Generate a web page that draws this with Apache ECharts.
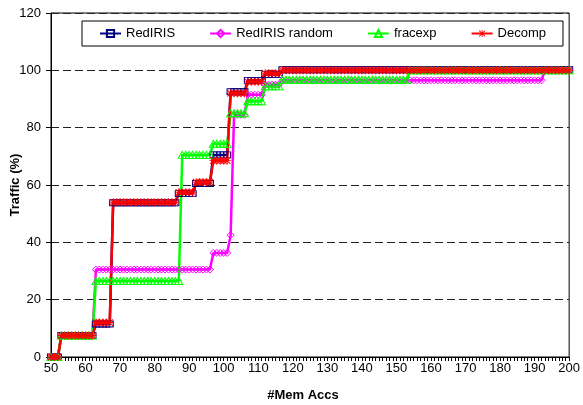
<!DOCTYPE html>
<html>
<head>
<meta charset="utf-8">
<script src="https://cdn.jsdelivr.net/npm/echarts@6/dist/echarts.min.js"></script>
<style>html,body{margin:0;padding:0;background:#fff}#c{width:583px;height:405px}</style>
</head>
<body>
<div id="c"></div>
<script>
// x values: #Mem Accs
var memAccs = [
  50,51,52,53,54,55,56,57,58,59,
  60,61,62,63,64,65,66,67,68,69,
  70,71,72,73,74,75,76,77,78,79,
  80,81,82,83,84,85,86,87,88,89,
  90,91,92,93,94,95,96,97,98,99,
  100,101,102,103,104,105,106,107,108,109,
  110,111,112,113,114,115,116,117,118,119,
  120,121,122,123,124,125,126,127,128,129,
  130,131,132,133,134,135,136,137,138,139,
  140,141,142,143,144,145,146,147,148,149,
  150,151,152,153,154,155,156,157,158,159,
  160,161,162,163,164,165,166,167,168,169,
  170,171,172,173,174,175,176,177,178,179,
  180,181,182,183,184,185,186,187,188,189,
  190,191,192,193,194,195,196,197,198,199,
  200
];
var redIRIS = [
  0,0,0,7.5,7.5,7.5,7.5,7.5,7.5,7.5,
  7.5,7.5,7.5,11.5,11.5,11.5,11.5,11.5,53.8,53.8,
  53.8,53.8,53.8,53.8,53.8,53.8,53.8,53.8,53.8,53.8,
  53.8,53.8,53.8,53.8,53.8,53.8,53.8,57,57,57,
  57,57,60.5,60.5,60.5,60.5,60.5,70.5,70.5,70.5,
  70.5,70.5,92.5,92.5,92.5,92.5,92.5,96.5,96.5,96.5,
  96.5,96.5,98.5,98.5,98.5,98.5,98.5,100.2,100.2,100.2,
  100.2,100.2,100.2,100.2,100.2,100.2,100.2,100.2,100.2,100.2,
  100.2,100.2,100.2,100.2,100.2,100.2,100.2,100.2,100.2,100.2,
  100.2,100.2,100.2,100.2,100.2,100.2,100.2,100.2,100.2,100.2,
  100.2,100.2,100.2,100.2,100.2,100.2,100.2,100.2,100.2,100.2,
  100.2,100.2,100.2,100.2,100.2,100.2,100.2,100.2,100.2,100.2,
  100.2,100.2,100.2,100.2,100.2,100.2,100.2,100.2,100.2,100.2,
  100.2,100.2,100.2,100.2,100.2,100.2,100.2,100.2,100.2,100.2,
  100.2,100.2,100.2,100.2,100.2,100.2,100.2,100.2,100.2,100.2,
  100.2
];
var redIRISRandom = [
  0,0,0,7.5,7.5,7.5,7.5,7.5,7.5,7.5,
  7.5,7.5,7.5,30.5,30.5,30.5,30.5,30.5,30.5,30.5,
  30.5,30.5,30.5,30.5,30.5,30.5,30.5,30.5,30.5,30.5,
  30.5,30.5,30.5,30.5,30.5,30.5,30.5,30.5,30.5,30.5,
  30.5,30.5,30.5,30.5,30.5,30.5,30.5,36.3,36.3,36.3,
  36.3,36.3,42.5,84.5,84.5,84.5,84.5,91.5,91.5,91.5,
  91.5,91.5,95,95,95,95,95,96.5,96.5,96.5,
  96.5,96.5,96.5,96.5,96.5,96.5,96.5,96.5,96.5,96.5,
  96.5,96.5,96.5,96.5,96.5,96.5,96.5,96.5,96.5,96.5,
  96.5,96.5,96.5,96.5,96.5,96.5,96.5,96.5,96.5,96.5,
  96.5,96.5,96.5,96.5,96.5,96.5,96.5,96.5,96.5,96.5,
  96.5,96.5,96.5,96.5,96.5,96.5,96.5,96.5,96.5,96.5,
  96.5,96.5,96.5,96.5,96.5,96.5,96.5,96.5,96.5,96.5,
  96.5,96.5,96.5,96.5,96.5,96.5,96.5,96.5,96.5,96.5,
  96.5,96.5,96.5,100,100,100,100,100,100,100,
  100
];
var fracexp = [
  0,0,0,7.5,7.5,7.5,7.5,7.5,7.5,7.5,
  7.5,7.5,7.5,26.5,26.5,26.5,26.5,26.5,26.5,26.5,
  26.5,26.5,26.5,26.5,26.5,26.5,26.5,26.5,26.5,26.5,
  26.5,26.5,26.5,26.5,26.5,26.5,26.5,26.5,70.5,70.5,
  70.5,70.5,70.5,70.5,70.5,70.5,70.5,74.4,74.4,74.4,
  74.4,74.4,85,85,85,85,85,89.2,89.2,89.2,
  89.2,89.2,94.4,94.4,94.4,94.4,94.4,96.7,96.7,96.7,
  96.7,96.7,96.7,96.7,96.7,96.7,96.7,96.7,96.7,96.7,
  96.7,96.7,96.7,96.7,96.7,96.7,96.7,96.7,96.7,96.7,
  96.7,96.7,96.7,96.7,96.7,96.7,96.7,96.7,96.7,96.7,
  96.7,96.7,96.7,96.7,100,100,100,100,100,100,
  100,100,100,100,100,100,100,100,100,100,
  100,100,100,100,100,100,100,100,100,100,
  100,100,100,100,100,100,100,100,100,100,
  100,100,100,100,100,100,100,100,100,100,
  100
];
var decomp = [
  0,0,0,7.5,7.5,7.5,7.5,7.5,7.5,7.5,
  7.5,7.5,7.5,12,12,12,12,12,54,54,
  54,54,54,54,54,54,54,54,54,54,
  54,54,54,54,54,54,54,57.5,57.5,57.5,
  57.5,57.5,61,61,61,61,61,68.5,68.5,68.5,
  68.5,68.5,92,92,92,92,92,96,96,96,
  96,96,99,99,99,99,99,100,100,100,
  100,100,100,100,100,100,100,100,100,100,
  100,100,100,100,100,100,100,100,100,100,
  100,100,100,100,100,100,100,100,100,100,
  100,100,100,100,100,100,100,100,100,100,
  100,100,100,100,100,100,100,100,100,100,
  100,100,100,100,100,100,100,100,100,100,
  100,100,100,100,100,100,100,100,100,100,
  100,100,100,100,100,100,100,100,100,100,
  100
];
var seriesNames = ['RedIRIS', 'RedIRIS random', 'fracexp', 'Decomp'];
var xTicks = {min: 50, max: 200, interval: 10};
var yTicks = {min: 0, max: 120, interval: 20};

function pairs(ys) { return memAccs.map(function (x, i) { return [x, ys[i]]; }); }

var FONT = '"Liberation Sans", Arial, sans-serif';
// filled asterisk shape (four thin bars)
var asterisk = 'path://M0,4.4L10,4.4L10,5.6L0,5.6Z' +
  'M4.4,0L5.6,0L5.6,10L4.4,10Z' +
  'M1.42,0.58L9.42,8.58L8.58,9.42L0.58,1.42Z' +
  'M9.42,1.42L1.42,9.42L0.58,8.58L8.58,0.58Z';

function mk(name, ys, color, symbol, size, filled) {
  return {
    name: name, type: 'line', data: pairs(ys),
    symbol: symbol, symbolSize: size, showSymbol: true,
    lineStyle: {color: color, width: 2.5},
    itemStyle: filled ? {color: color, borderWidth: 0}
                      : {color: 'rgba(255,255,255,0)', borderColor: color, borderWidth: 1},
    emphasis: {disabled: true}
  };
}

var chart = echarts.init(document.getElementById('c'), null, {renderer: 'canvas'});
chart.setOption({
  animation: false,
  backgroundColor: '#fff',
  textStyle: {fontFamily: FONT},
  grid: {left: 51, right: 11, top: 13, bottom: 48, show: true, borderColor: '#000', borderWidth: 1, backgroundColor: 'transparent'},
  legend: {
    data: seriesNames, left: 82, top: 21, padding: [6, 17, 6, 17], itemGap: 34,
    itemWidth: 21, itemHeight: 9, borderColor: '#000', borderWidth: 1, backgroundColor: '#fff',
    textStyle: {fontFamily: FONT, fontSize: 13, color: '#000'}
  },
  xAxis: {
    type: 'value', min: xTicks.min, max: xTicks.max, interval: xTicks.interval,
    axisLine: {lineStyle: {color: '#000', width: 1}},
    axisTick: {show: true, length: 4, lineStyle: {color: '#000'}},
    minorTick: {show: true, splitNumber: 10, length: 4, lineStyle: {color: '#000'}},
    splitLine: {show: false},
    axisLabel: {fontFamily: FONT, fontSize: 13, color: '#000', margin: 5}
  },
  yAxis: {
    type: 'value', min: yTicks.min, max: yTicks.max, interval: yTicks.interval,
    axisLine: {show: true, lineStyle: {color: '#000', width: 1}},
    axisTick: {show: true, length: 5, lineStyle: {color: '#000'}},
    splitLine: {show: true, lineStyle: {color: '#222', type: [8, 4], width: 1}},
    axisLabel: {fontFamily: FONT, fontSize: 13, color: '#000', margin: 10}
  },
  graphic: [
    {type: 'text', x: 303, y: 395, style: {text: '#Mem Accs', font: 'bold 13px ' + FONT, fill: '#000', textAlign: 'center', textVerticalAlign: 'middle'}},
    {type: 'text', x: 15, y: 185, rotation: Math.PI / 2, style: {text: 'Traffic (%)', font: 'bold 13px ' + FONT, fill: '#000', textAlign: 'center', textVerticalAlign: 'middle'}}
  ],
  series: [
    mk(seriesNames[0], redIRIS, '#000080', 'rect', [7, 6], false),
    mk(seriesNames[1], redIRISRandom, '#FF00FF', 'diamond', 7, false),
    mk(seriesNames[2], fracexp, '#00FF00', 'triangle', [8, 7], false),
    mk(seriesNames[3], decomp, '#FF0000', asterisk, 8, true)
  ]
});
</script>
</body>
</html>
